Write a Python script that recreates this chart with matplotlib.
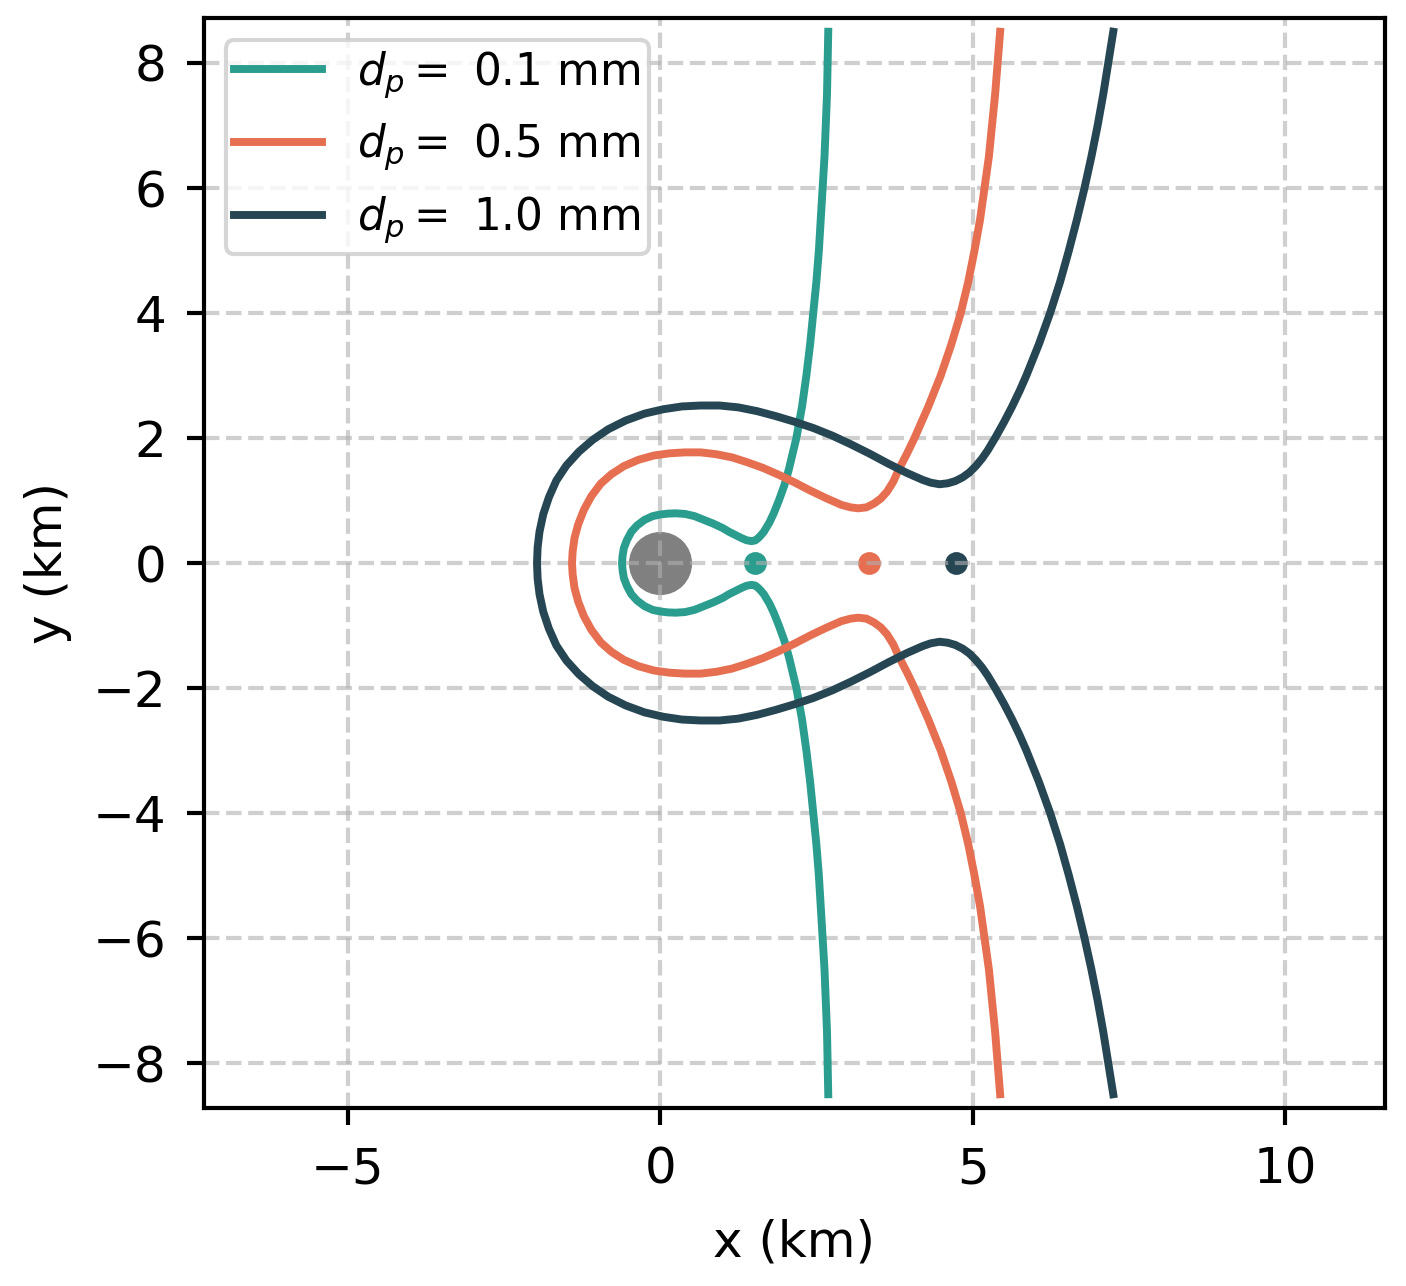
import numpy as np
import matplotlib
matplotlib.use("Agg")
import matplotlib.pyplot as plt

plt.rcParams["font.size"] = 12

# particle diameters (mm) and colours
diameters = [0.1, 0.5, 1.0]
colors = ["#2a9d8f", "#e76f51", "#264653"]

# upper half of each separatrix (km); lower half is the mirror image
x_01 = [-0.61, -0.60, -0.58, -0.53, -0.46, -0.37, -0.25, -0.12, 0.00, 0.12, 0.25, 0.40,
        0.55, 0.70, 0.85, 1.00, 1.10, 1.20, 1.30, 1.38, 1.46, 1.52, 1.56, 1.61, 1.66, 1.75,
        1.82, 1.90, 1.99, 2.06, 2.12, 2.18, 2.27, 2.34, 2.40, 2.45, 2.50, 2.54, 2.57, 2.60,
        2.63, 2.65, 2.67, 2.68, 2.69]
y_01 = [0.00, 0.12, 0.24, 0.37, 0.50, 0.60, 0.69, 0.75, 0.775, 0.79, 0.795, 0.785,
        0.75, 0.69, 0.63, 0.56, 0.50, 0.45, 0.40, 0.365, 0.35, 0.36, 0.39, 0.44, 0.50, 0.65,
        0.80, 1.00, 1.25, 1.50, 1.75, 2.00, 2.50, 3.00, 3.50, 4.00, 4.50, 5.00, 5.50, 6.00,
        6.50, 7.00, 7.50, 8.00, 8.50]

x_05 = [-1.41, -1.40, -1.37, -1.31, -1.22, -1.10, -0.95, -0.78, -0.58, -0.35, -0.10, 0.15,
        0.40, 0.65, 0.90, 1.15, 1.40, 1.65, 1.90, 2.15, 2.40, 2.65, 2.90, 3.05, 3.17, 3.30,
        3.42, 3.53, 3.63, 3.73, 3.82, 3.95, 4.07, 4.18, 4.29, 4.39, 4.49, 4.66, 4.81, 4.93,
        5.03, 5.12, 5.19, 5.26, 5.31, 5.36, 5.40, 5.44]
y_05 = [0.00, 0.18, 0.40, 0.62, 0.85, 1.07, 1.27, 1.42, 1.55, 1.65, 1.72, 1.755,
        1.77, 1.77, 1.74, 1.69, 1.61, 1.52, 1.41, 1.29, 1.16, 1.04, 0.93, 0.89, 0.875, 0.89,
        0.95, 1.03, 1.14, 1.30, 1.50, 1.75, 2.00, 2.25, 2.50, 2.75, 3.00, 3.50, 4.00, 4.50,
        5.00, 5.50, 6.00, 6.50, 7.00, 7.50, 8.00, 8.50]

x_10 = [-1.97, -1.96, -1.93, -1.87, -1.78, -1.66, -1.50, -1.30, -1.08, -0.83, -0.55, -0.25,
        0.05, 0.35, 0.65, 0.95, 1.25, 1.55, 1.85, 2.15, 2.45, 2.75, 3.05, 3.35, 3.65, 3.95,
        4.20, 4.33, 4.47, 4.60, 4.72, 4.84, 4.95, 5.05, 5.15, 5.24, 5.36, 5.50, 5.63, 5.75,
        5.86, 6.06, 6.24, 6.40, 6.54, 6.67, 6.79, 6.90, 7.00, 7.09, 7.17, 7.25]
y_10 = [0.00, 0.25, 0.50, 0.78, 1.05, 1.32, 1.56, 1.78, 1.97, 2.14, 2.28, 2.39,
        2.46, 2.505, 2.52, 2.52, 2.49, 2.43, 2.35, 2.26, 2.16, 2.04, 1.90, 1.75, 1.59, 1.44,
        1.33, 1.285, 1.26, 1.275, 1.31, 1.37, 1.45, 1.55, 1.67, 1.80, 2.00, 2.25, 2.50, 2.75,
        3.00, 3.50, 4.00, 4.50, 5.00, 5.50, 6.00, 6.50, 7.00, 7.50, 8.00, 8.50]

# stagnation points on the x axis (km)
x_stag = [1.51, 3.34, 4.74]

curves = [(x_01, y_01), (x_05, y_05), (x_10, y_10)]

fig = plt.figure(figsize=(1406 / 300, 1286 / 300), dpi=300)
ax = fig.add_axes([203 / 1406, 178 / 1286, 1183 / 1406, 1090 / 1286])

for (xu, yu), d, c in zip(curves, diameters, colors):
    xu = np.array(xu)
    yu = np.array(yu)
    xs = np.concatenate([xu[::-1], xu[1:]])
    ys = np.concatenate([-yu[::-1], yu[1:]])
    ax.plot(xs, ys, color=c, lw=1.9, label=f"$d_p = $ {d} mm")

ax.scatter([0], [0], s=200, color="gray")
for xp, c in zip(x_stag, colors):
    ax.scatter([xp], [0], s=20, color=c)

ax.grid(True, linestyle="--", lw=1.0, alpha=0.6)
ax.set_xlim(-7.3, 11.6)
ax.set_ylim(-8.72, 8.72)
ax.set_aspect("equal")
ax.set_xticks([-5, 0, 5, 10])
ax.set_yticks([-8, -6, -4, -2, 0, 2, 4, 6, 8])
ax.tick_params(length=4, width=1, pad=5)
for sp in ax.spines.values():
    sp.set_linewidth(1)
ax.set_xlabel("x (km)", labelpad=6)
ax.set_ylabel("y (km)", labelpad=5)
ax.legend(loc="upper left", fontsize=10.5, borderpad=0.2)

fig.savefig("out.png", dpi=300)
